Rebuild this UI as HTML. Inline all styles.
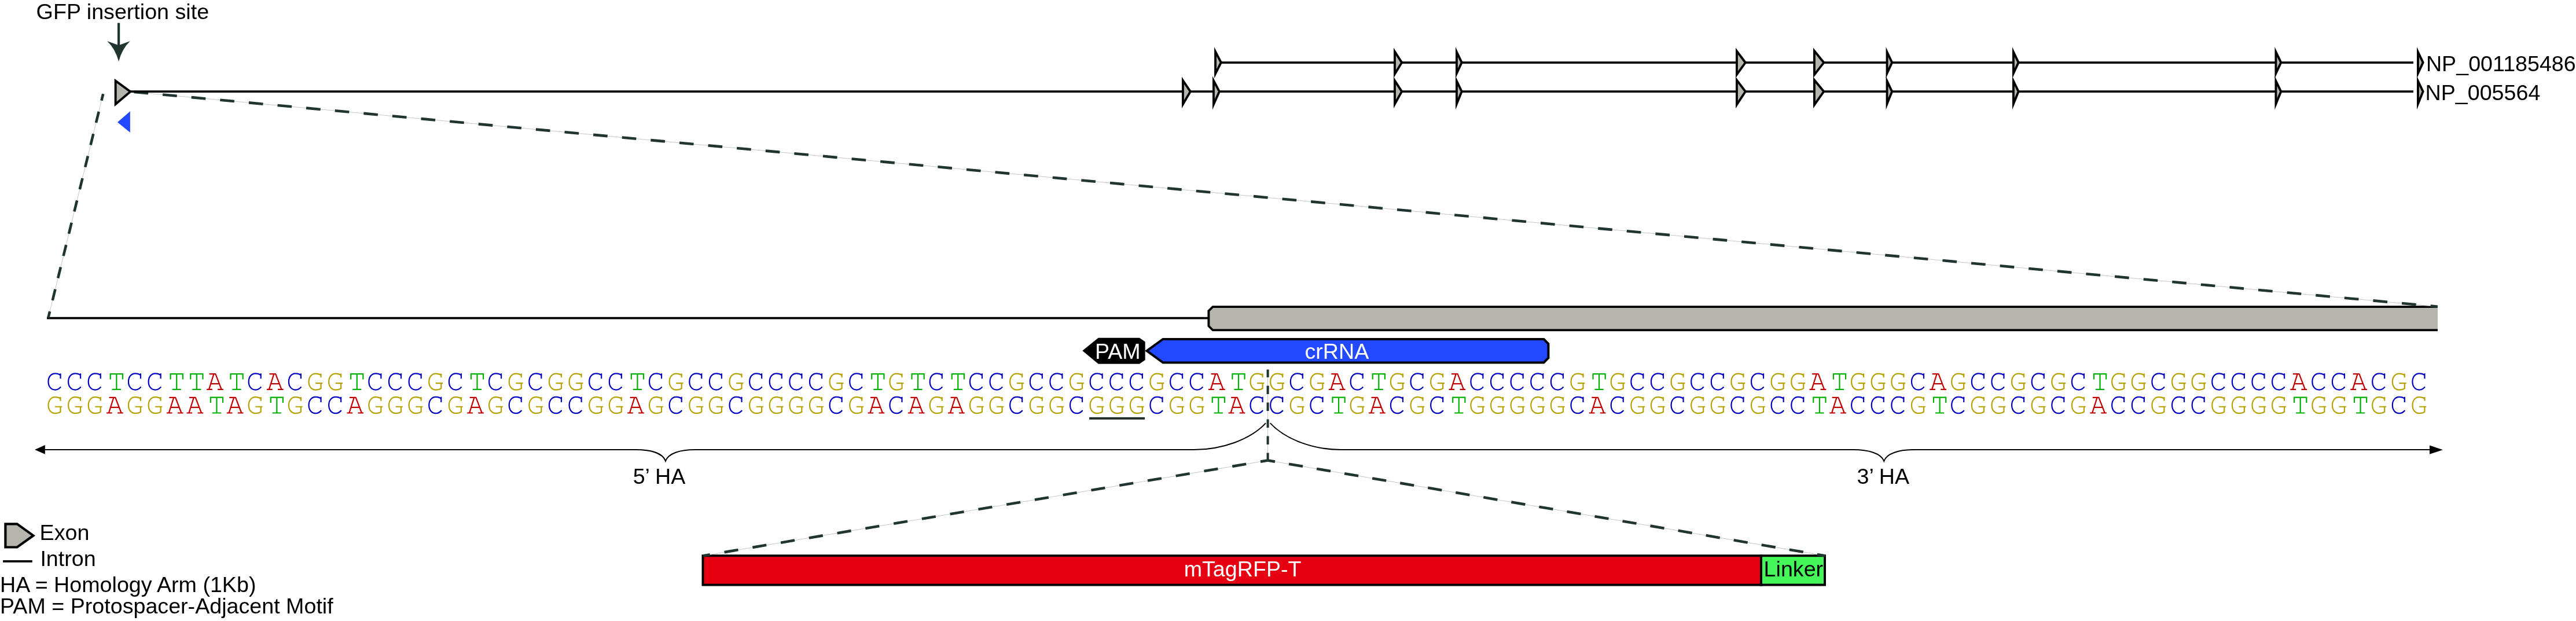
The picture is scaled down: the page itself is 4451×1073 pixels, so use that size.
<!DOCTYPE html>
<html><head><meta charset="utf-8"><style>
html,body{margin:0;padding:0;background:#fff;overflow:hidden;}
svg{display:block;}
#wrap{will-change:transform;}
text{font-family:"Liberation Sans",sans-serif;}
</style></head><body>
<div id="wrap"><svg width="4451" height="1073" viewBox="0 0 4451 1073">
<rect width="4451" height="1073" fill="#fff"/>
<text x="62.61" y="32.80" fill="#000" font-size="37.65">GFP insertion site</text>
<line x1="205.1" y1="39.6" x2="205.1" y2="80" stroke="#213530" stroke-width="4.2"/>
<path d="M205.1,106.3 Q199,84 185.2,71.1 L205.1,78.2 L224.8,71.1 Q211,84 205.1,106.3Z" fill="#213530"/>
<line x1="81" y1="549.6" x2="2088" y2="549.6" stroke="#000" stroke-width="3.9"/>
<path d="M4212,530.1 L2095.5,530.1 L2088.4,537.2 L2088.4,563.3 L2095.5,570.4 L4212,570.4 Z" fill="#b5b5ae"/>
<path d="M4212,530.1 L2095.5,530.1 L2088.4,537.2 L2088.4,563.3 L2095.5,570.4 L4212,570.4" fill="none" stroke="#000" stroke-width="3.9"/>
<line x1="178.2" y1="162.3" x2="83.4" y2="549" stroke="#bcbfbd" stroke-width="0.9"/>
<line x1="178.2" y1="162.3" x2="83.4" y2="549" stroke="#213530" stroke-width="4.6" stroke-dasharray="19.75 19.75" stroke-dashoffset="8"/>
<line x1="226" y1="158.4" x2="4212" y2="529.8" stroke="#bcbfbd" stroke-width="0.9"/>
<line x1="226" y1="158.4" x2="4212" y2="529.8" stroke="#213530" stroke-width="4.6" stroke-dasharray="24.7 25.117" stroke-dashoffset="-5.52"/>
<line x1="224" y1="158.1" x2="4170" y2="158.1" stroke="#000" stroke-width="3.8"/>
<line x1="2108" y1="108.1" x2="4170" y2="108.1" stroke="#000" stroke-width="3.8"/>
<polygon points="197.70,135.70 228.43,158.20 197.70,184.30" fill="#000"/>
<polygon points="201.60,143.39 222.14,158.43 201.60,175.87" fill="#b5b5ae"/>
<polygon points="2098.10,81.20 2112.01,108.10 2098.10,135.50" fill="#000"/>
<polygon points="2102.00,97.23 2107.63,108.12 2102.00,119.20" fill="#b5b5ae"/>
<polygon points="2408.00,82.60 2424.41,108.10 2408.00,134.80" fill="#000"/>
<polygon points="2411.90,95.86 2419.81,108.15 2411.90,121.01" fill="#b5b5ae"/>
<polygon points="2515.00,81.20 2527.84,108.10 2515.00,135.50" fill="#000"/>
<polygon points="2518.90,98.42 2523.53,108.12 2518.90,117.99" fill="#b5b5ae"/>
<polygon points="2999.00,82.60 3018.31,108.10 2999.00,134.80" fill="#000"/>
<polygon points="3002.90,94.21 3013.46,108.15 3002.90,122.75" fill="#b5b5ae"/>
<polygon points="3133.00,82.60 3153.81,108.10 3133.00,134.80" fill="#000"/>
<polygon points="3136.90,93.55 3148.82,108.16 3136.90,123.45" fill="#b5b5ae"/>
<polygon points="3258.60,81.20 3271.33,108.10 3258.60,135.50" fill="#000"/>
<polygon points="3262.50,98.56 3267.03,108.12 3262.50,117.85" fill="#b5b5ae"/>
<polygon points="3477.00,81.20 3489.84,108.10 3477.00,135.50" fill="#000"/>
<polygon points="3480.90,98.42 3485.53,108.12 3480.90,117.99" fill="#b5b5ae"/>
<polygon points="3930.50,81.20 3943.45,108.10 3930.50,135.50" fill="#000"/>
<polygon points="3934.40,98.30 3939.13,108.12 3934.40,118.12" fill="#b5b5ae"/>
<polygon points="4176.00,81.20 4188.84,108.10 4176.00,135.50" fill="#000"/>
<polygon points="4179.90,98.42 4184.53,108.12 4179.90,117.99" fill="#b5b5ae"/>
<polygon points="2042.00,132.80 2059.12,158.10 2042.00,187.30" fill="#000"/>
<polygon points="2045.90,145.53 2054.51,158.25 2045.90,172.93" fill="#b5b5ae"/>
<polygon points="2095.00,131.50 2109.06,158.10 2095.00,189.60" fill="#000"/>
<polygon points="2098.90,147.22 2104.73,158.24 2098.90,171.30" fill="#b5b5ae"/>
<polygon points="2408.00,132.80 2424.37,158.10 2408.00,187.30" fill="#000"/>
<polygon points="2411.90,146.01 2419.82,158.24 2411.90,172.37" fill="#b5b5ae"/>
<polygon points="2515.00,131.50 2527.78,158.10 2515.00,189.60" fill="#000"/>
<polygon points="2518.90,148.62 2523.52,158.23 2518.90,169.62" fill="#b5b5ae"/>
<polygon points="2999.00,132.80 3018.26,158.10 2999.00,187.30" fill="#000"/>
<polygon points="3002.90,144.36 3013.48,158.26 3002.90,174.30" fill="#b5b5ae"/>
<polygon points="3133.00,132.80 3153.75,158.10 3133.00,187.30" fill="#000"/>
<polygon points="3136.90,143.70 3148.85,158.27 3136.90,175.08" fill="#b5b5ae"/>
<polygon points="3258.60,131.50 3271.28,158.10 3258.60,189.60" fill="#000"/>
<polygon points="3262.50,148.75 3267.02,158.23 3262.50,169.47" fill="#b5b5ae"/>
<polygon points="3477.00,131.50 3489.78,158.10 3477.00,189.60" fill="#000"/>
<polygon points="3480.90,148.62 3485.52,158.23 3480.90,169.62" fill="#b5b5ae"/>
<polygon points="3930.50,131.50 3943.39,158.10 3930.50,189.60" fill="#000"/>
<polygon points="3934.40,148.49 3939.12,158.23 3934.40,169.77" fill="#b5b5ae"/>
<polygon points="4176.00,131.50 4188.78,158.10 4176.00,189.60" fill="#000"/>
<polygon points="4179.90,148.62 4184.52,158.23 4179.90,169.62" fill="#b5b5ae"/>
<text x="4191.91" y="123.00" fill="#000" font-size="37.65">NP_001185486</text>
<text x="4190.51" y="173.00" fill="#000" font-size="37.65">NP_005564</text>
<polygon points="203,211.2 224.9,192.2 224.9,228.9" fill="#2249ff"/>
<polygon points="1870.3,605.9 1897.7,583.7 1968.9,583.7 1978.7,590.6 1978.7,622 1968.9,628.7 1897.7,628.7" fill="#000"/>
<text x="1891.91" y="619.90" fill="#fff" font-size="37.65">PAM</text>
<polygon points="1981.6,606.2 2009.5,586 2667.5,586 2675.4,594 2675.4,618.5 2667.5,626.5 2009.5,626.5" fill="#2249ff" stroke="#000" stroke-width="4" stroke-miterlimit="10"/>
<text x="2254.50" y="620.00" fill="#fff" font-size="37.65">crRNA</text>
<g stroke="#c00000" stroke-width="2.2" fill="none">
<path transform="translate(371.75,673.6)" d="M-10.1,-27.4H1.2M-2.3,-27.4L-10.7,-0.7M0.6,-27.4L10.9,-0.7M-7.5,-10.4H7M-14.6,-0.7H-4.9M4.4,-0.7H14.1"/>
<path transform="translate(475.60,673.6)" d="M-10.1,-27.4H1.2M-2.3,-27.4L-10.7,-0.7M0.6,-27.4L10.9,-0.7M-7.5,-10.4H7M-14.6,-0.7H-4.9M4.4,-0.7H14.1"/>
<path transform="translate(2102.66,673.6)" d="M-10.1,-27.4H1.2M-2.3,-27.4L-10.7,-0.7M0.6,-27.4L10.9,-0.7M-7.5,-10.4H7M-14.6,-0.7H-4.9M4.4,-0.7H14.1"/>
<path transform="translate(2310.37,673.6)" d="M-10.1,-27.4H1.2M-2.3,-27.4L-10.7,-0.7M0.6,-27.4L10.9,-0.7M-7.5,-10.4H7M-14.6,-0.7H-4.9M4.4,-0.7H14.1"/>
<path transform="translate(2518.07,673.6)" d="M-10.1,-27.4H1.2M-2.3,-27.4L-10.7,-0.7M0.6,-27.4L10.9,-0.7M-7.5,-10.4H7M-14.6,-0.7H-4.9M4.4,-0.7H14.1"/>
<path transform="translate(3141.20,673.6)" d="M-10.1,-27.4H1.2M-2.3,-27.4L-10.7,-0.7M0.6,-27.4L10.9,-0.7M-7.5,-10.4H7M-14.6,-0.7H-4.9M4.4,-0.7H14.1"/>
<path transform="translate(3348.91,673.6)" d="M-10.1,-27.4H1.2M-2.3,-27.4L-10.7,-0.7M0.6,-27.4L10.9,-0.7M-7.5,-10.4H7M-14.6,-0.7H-4.9M4.4,-0.7H14.1"/>
<path transform="translate(3972.04,673.6)" d="M-10.1,-27.4H1.2M-2.3,-27.4L-10.7,-0.7M0.6,-27.4L10.9,-0.7M-7.5,-10.4H7M-14.6,-0.7H-4.9M4.4,-0.7H14.1"/>
<path transform="translate(4075.89,673.6)" d="M-10.1,-27.4H1.2M-2.3,-27.4L-10.7,-0.7M0.6,-27.4L10.9,-0.7M-7.5,-10.4H7M-14.6,-0.7H-4.9M4.4,-0.7H14.1"/>
</g>
<g stroke="#0000c0" stroke-width="2.2" fill="none">
<path transform="translate(94.81,673.6)" d="M9.7,-28.4V-19.3M9.7,-25.2C7.5,-27.3 4,-28.3 0.5,-28.3C-6.5,-28.3 -11.3,-22.5 -11.3,-14.2C-11.3,-5.8 -6.5,0 0.5,0C4.5,0 7.8,-2 10.3,-5.2"/>
<path transform="translate(129.42,673.6)" d="M9.7,-28.4V-19.3M9.7,-25.2C7.5,-27.3 4,-28.3 0.5,-28.3C-6.5,-28.3 -11.3,-22.5 -11.3,-14.2C-11.3,-5.8 -6.5,0 0.5,0C4.5,0 7.8,-2 10.3,-5.2"/>
<path transform="translate(164.04,673.6)" d="M9.7,-28.4V-19.3M9.7,-25.2C7.5,-27.3 4,-28.3 0.5,-28.3C-6.5,-28.3 -11.3,-22.5 -11.3,-14.2C-11.3,-5.8 -6.5,0 0.5,0C4.5,0 7.8,-2 10.3,-5.2"/>
<path transform="translate(233.28,673.6)" d="M9.7,-28.4V-19.3M9.7,-25.2C7.5,-27.3 4,-28.3 0.5,-28.3C-6.5,-28.3 -11.3,-22.5 -11.3,-14.2C-11.3,-5.8 -6.5,0 0.5,0C4.5,0 7.8,-2 10.3,-5.2"/>
<path transform="translate(267.90,673.6)" d="M9.7,-28.4V-19.3M9.7,-25.2C7.5,-27.3 4,-28.3 0.5,-28.3C-6.5,-28.3 -11.3,-22.5 -11.3,-14.2C-11.3,-5.8 -6.5,0 0.5,0C4.5,0 7.8,-2 10.3,-5.2"/>
<path transform="translate(440.99,673.6)" d="M9.7,-28.4V-19.3M9.7,-25.2C7.5,-27.3 4,-28.3 0.5,-28.3C-6.5,-28.3 -11.3,-22.5 -11.3,-14.2C-11.3,-5.8 -6.5,0 0.5,0C4.5,0 7.8,-2 10.3,-5.2"/>
<path transform="translate(510.22,673.6)" d="M9.7,-28.4V-19.3M9.7,-25.2C7.5,-27.3 4,-28.3 0.5,-28.3C-6.5,-28.3 -11.3,-22.5 -11.3,-14.2C-11.3,-5.8 -6.5,0 0.5,0C4.5,0 7.8,-2 10.3,-5.2"/>
<path transform="translate(648.70,673.6)" d="M9.7,-28.4V-19.3M9.7,-25.2C7.5,-27.3 4,-28.3 0.5,-28.3C-6.5,-28.3 -11.3,-22.5 -11.3,-14.2C-11.3,-5.8 -6.5,0 0.5,0C4.5,0 7.8,-2 10.3,-5.2"/>
<path transform="translate(683.31,673.6)" d="M9.7,-28.4V-19.3M9.7,-25.2C7.5,-27.3 4,-28.3 0.5,-28.3C-6.5,-28.3 -11.3,-22.5 -11.3,-14.2C-11.3,-5.8 -6.5,0 0.5,0C4.5,0 7.8,-2 10.3,-5.2"/>
<path transform="translate(717.93,673.6)" d="M9.7,-28.4V-19.3M9.7,-25.2C7.5,-27.3 4,-28.3 0.5,-28.3C-6.5,-28.3 -11.3,-22.5 -11.3,-14.2C-11.3,-5.8 -6.5,0 0.5,0C4.5,0 7.8,-2 10.3,-5.2"/>
<path transform="translate(787.17,673.6)" d="M9.7,-28.4V-19.3M9.7,-25.2C7.5,-27.3 4,-28.3 0.5,-28.3C-6.5,-28.3 -11.3,-22.5 -11.3,-14.2C-11.3,-5.8 -6.5,0 0.5,0C4.5,0 7.8,-2 10.3,-5.2"/>
<path transform="translate(856.40,673.6)" d="M9.7,-28.4V-19.3M9.7,-25.2C7.5,-27.3 4,-28.3 0.5,-28.3C-6.5,-28.3 -11.3,-22.5 -11.3,-14.2C-11.3,-5.8 -6.5,0 0.5,0C4.5,0 7.8,-2 10.3,-5.2"/>
<path transform="translate(925.64,673.6)" d="M9.7,-28.4V-19.3M9.7,-25.2C7.5,-27.3 4,-28.3 0.5,-28.3C-6.5,-28.3 -11.3,-22.5 -11.3,-14.2C-11.3,-5.8 -6.5,0 0.5,0C4.5,0 7.8,-2 10.3,-5.2"/>
<path transform="translate(1029.49,673.6)" d="M9.7,-28.4V-19.3M9.7,-25.2C7.5,-27.3 4,-28.3 0.5,-28.3C-6.5,-28.3 -11.3,-22.5 -11.3,-14.2C-11.3,-5.8 -6.5,0 0.5,0C4.5,0 7.8,-2 10.3,-5.2"/>
<path transform="translate(1064.11,673.6)" d="M9.7,-28.4V-19.3M9.7,-25.2C7.5,-27.3 4,-28.3 0.5,-28.3C-6.5,-28.3 -11.3,-22.5 -11.3,-14.2C-11.3,-5.8 -6.5,0 0.5,0C4.5,0 7.8,-2 10.3,-5.2"/>
<path transform="translate(1133.35,673.6)" d="M9.7,-28.4V-19.3M9.7,-25.2C7.5,-27.3 4,-28.3 0.5,-28.3C-6.5,-28.3 -11.3,-22.5 -11.3,-14.2C-11.3,-5.8 -6.5,0 0.5,0C4.5,0 7.8,-2 10.3,-5.2"/>
<path transform="translate(1202.59,673.6)" d="M9.7,-28.4V-19.3M9.7,-25.2C7.5,-27.3 4,-28.3 0.5,-28.3C-6.5,-28.3 -11.3,-22.5 -11.3,-14.2C-11.3,-5.8 -6.5,0 0.5,0C4.5,0 7.8,-2 10.3,-5.2"/>
<path transform="translate(1237.20,673.6)" d="M9.7,-28.4V-19.3M9.7,-25.2C7.5,-27.3 4,-28.3 0.5,-28.3C-6.5,-28.3 -11.3,-22.5 -11.3,-14.2C-11.3,-5.8 -6.5,0 0.5,0C4.5,0 7.8,-2 10.3,-5.2"/>
<path transform="translate(1306.44,673.6)" d="M9.7,-28.4V-19.3M9.7,-25.2C7.5,-27.3 4,-28.3 0.5,-28.3C-6.5,-28.3 -11.3,-22.5 -11.3,-14.2C-11.3,-5.8 -6.5,0 0.5,0C4.5,0 7.8,-2 10.3,-5.2"/>
<path transform="translate(1341.06,673.6)" d="M9.7,-28.4V-19.3M9.7,-25.2C7.5,-27.3 4,-28.3 0.5,-28.3C-6.5,-28.3 -11.3,-22.5 -11.3,-14.2C-11.3,-5.8 -6.5,0 0.5,0C4.5,0 7.8,-2 10.3,-5.2"/>
<path transform="translate(1375.68,673.6)" d="M9.7,-28.4V-19.3M9.7,-25.2C7.5,-27.3 4,-28.3 0.5,-28.3C-6.5,-28.3 -11.3,-22.5 -11.3,-14.2C-11.3,-5.8 -6.5,0 0.5,0C4.5,0 7.8,-2 10.3,-5.2"/>
<path transform="translate(1410.29,673.6)" d="M9.7,-28.4V-19.3M9.7,-25.2C7.5,-27.3 4,-28.3 0.5,-28.3C-6.5,-28.3 -11.3,-22.5 -11.3,-14.2C-11.3,-5.8 -6.5,0 0.5,0C4.5,0 7.8,-2 10.3,-5.2"/>
<path transform="translate(1479.53,673.6)" d="M9.7,-28.4V-19.3M9.7,-25.2C7.5,-27.3 4,-28.3 0.5,-28.3C-6.5,-28.3 -11.3,-22.5 -11.3,-14.2C-11.3,-5.8 -6.5,0 0.5,0C4.5,0 7.8,-2 10.3,-5.2"/>
<path transform="translate(1618.00,673.6)" d="M9.7,-28.4V-19.3M9.7,-25.2C7.5,-27.3 4,-28.3 0.5,-28.3C-6.5,-28.3 -11.3,-22.5 -11.3,-14.2C-11.3,-5.8 -6.5,0 0.5,0C4.5,0 7.8,-2 10.3,-5.2"/>
<path transform="translate(1687.24,673.6)" d="M9.7,-28.4V-19.3M9.7,-25.2C7.5,-27.3 4,-28.3 0.5,-28.3C-6.5,-28.3 -11.3,-22.5 -11.3,-14.2C-11.3,-5.8 -6.5,0 0.5,0C4.5,0 7.8,-2 10.3,-5.2"/>
<path transform="translate(1721.86,673.6)" d="M9.7,-28.4V-19.3M9.7,-25.2C7.5,-27.3 4,-28.3 0.5,-28.3C-6.5,-28.3 -11.3,-22.5 -11.3,-14.2C-11.3,-5.8 -6.5,0 0.5,0C4.5,0 7.8,-2 10.3,-5.2"/>
<path transform="translate(1791.09,673.6)" d="M9.7,-28.4V-19.3M9.7,-25.2C7.5,-27.3 4,-28.3 0.5,-28.3C-6.5,-28.3 -11.3,-22.5 -11.3,-14.2C-11.3,-5.8 -6.5,0 0.5,0C4.5,0 7.8,-2 10.3,-5.2"/>
<path transform="translate(1825.71,673.6)" d="M9.7,-28.4V-19.3M9.7,-25.2C7.5,-27.3 4,-28.3 0.5,-28.3C-6.5,-28.3 -11.3,-22.5 -11.3,-14.2C-11.3,-5.8 -6.5,0 0.5,0C4.5,0 7.8,-2 10.3,-5.2"/>
<path transform="translate(1894.95,673.6)" d="M9.7,-28.4V-19.3M9.7,-25.2C7.5,-27.3 4,-28.3 0.5,-28.3C-6.5,-28.3 -11.3,-22.5 -11.3,-14.2C-11.3,-5.8 -6.5,0 0.5,0C4.5,0 7.8,-2 10.3,-5.2"/>
<path transform="translate(1929.57,673.6)" d="M9.7,-28.4V-19.3M9.7,-25.2C7.5,-27.3 4,-28.3 0.5,-28.3C-6.5,-28.3 -11.3,-22.5 -11.3,-14.2C-11.3,-5.8 -6.5,0 0.5,0C4.5,0 7.8,-2 10.3,-5.2"/>
<path transform="translate(1964.18,673.6)" d="M9.7,-28.4V-19.3M9.7,-25.2C7.5,-27.3 4,-28.3 0.5,-28.3C-6.5,-28.3 -11.3,-22.5 -11.3,-14.2C-11.3,-5.8 -6.5,0 0.5,0C4.5,0 7.8,-2 10.3,-5.2"/>
<path transform="translate(2033.42,673.6)" d="M9.7,-28.4V-19.3M9.7,-25.2C7.5,-27.3 4,-28.3 0.5,-28.3C-6.5,-28.3 -11.3,-22.5 -11.3,-14.2C-11.3,-5.8 -6.5,0 0.5,0C4.5,0 7.8,-2 10.3,-5.2"/>
<path transform="translate(2068.04,673.6)" d="M9.7,-28.4V-19.3M9.7,-25.2C7.5,-27.3 4,-28.3 0.5,-28.3C-6.5,-28.3 -11.3,-22.5 -11.3,-14.2C-11.3,-5.8 -6.5,0 0.5,0C4.5,0 7.8,-2 10.3,-5.2"/>
<path transform="translate(2241.13,673.6)" d="M9.7,-28.4V-19.3M9.7,-25.2C7.5,-27.3 4,-28.3 0.5,-28.3C-6.5,-28.3 -11.3,-22.5 -11.3,-14.2C-11.3,-5.8 -6.5,0 0.5,0C4.5,0 7.8,-2 10.3,-5.2"/>
<path transform="translate(2344.98,673.6)" d="M9.7,-28.4V-19.3M9.7,-25.2C7.5,-27.3 4,-28.3 0.5,-28.3C-6.5,-28.3 -11.3,-22.5 -11.3,-14.2C-11.3,-5.8 -6.5,0 0.5,0C4.5,0 7.8,-2 10.3,-5.2"/>
<path transform="translate(2448.84,673.6)" d="M9.7,-28.4V-19.3M9.7,-25.2C7.5,-27.3 4,-28.3 0.5,-28.3C-6.5,-28.3 -11.3,-22.5 -11.3,-14.2C-11.3,-5.8 -6.5,0 0.5,0C4.5,0 7.8,-2 10.3,-5.2"/>
<path transform="translate(2552.69,673.6)" d="M9.7,-28.4V-19.3M9.7,-25.2C7.5,-27.3 4,-28.3 0.5,-28.3C-6.5,-28.3 -11.3,-22.5 -11.3,-14.2C-11.3,-5.8 -6.5,0 0.5,0C4.5,0 7.8,-2 10.3,-5.2"/>
<path transform="translate(2587.31,673.6)" d="M9.7,-28.4V-19.3M9.7,-25.2C7.5,-27.3 4,-28.3 0.5,-28.3C-6.5,-28.3 -11.3,-22.5 -11.3,-14.2C-11.3,-5.8 -6.5,0 0.5,0C4.5,0 7.8,-2 10.3,-5.2"/>
<path transform="translate(2621.93,673.6)" d="M9.7,-28.4V-19.3M9.7,-25.2C7.5,-27.3 4,-28.3 0.5,-28.3C-6.5,-28.3 -11.3,-22.5 -11.3,-14.2C-11.3,-5.8 -6.5,0 0.5,0C4.5,0 7.8,-2 10.3,-5.2"/>
<path transform="translate(2656.55,673.6)" d="M9.7,-28.4V-19.3M9.7,-25.2C7.5,-27.3 4,-28.3 0.5,-28.3C-6.5,-28.3 -11.3,-22.5 -11.3,-14.2C-11.3,-5.8 -6.5,0 0.5,0C4.5,0 7.8,-2 10.3,-5.2"/>
<path transform="translate(2691.17,673.6)" d="M9.7,-28.4V-19.3M9.7,-25.2C7.5,-27.3 4,-28.3 0.5,-28.3C-6.5,-28.3 -11.3,-22.5 -11.3,-14.2C-11.3,-5.8 -6.5,0 0.5,0C4.5,0 7.8,-2 10.3,-5.2"/>
<path transform="translate(2829.64,673.6)" d="M9.7,-28.4V-19.3M9.7,-25.2C7.5,-27.3 4,-28.3 0.5,-28.3C-6.5,-28.3 -11.3,-22.5 -11.3,-14.2C-11.3,-5.8 -6.5,0 0.5,0C4.5,0 7.8,-2 10.3,-5.2"/>
<path transform="translate(2864.26,673.6)" d="M9.7,-28.4V-19.3M9.7,-25.2C7.5,-27.3 4,-28.3 0.5,-28.3C-6.5,-28.3 -11.3,-22.5 -11.3,-14.2C-11.3,-5.8 -6.5,0 0.5,0C4.5,0 7.8,-2 10.3,-5.2"/>
<path transform="translate(2933.49,673.6)" d="M9.7,-28.4V-19.3M9.7,-25.2C7.5,-27.3 4,-28.3 0.5,-28.3C-6.5,-28.3 -11.3,-22.5 -11.3,-14.2C-11.3,-5.8 -6.5,0 0.5,0C4.5,0 7.8,-2 10.3,-5.2"/>
<path transform="translate(2968.11,673.6)" d="M9.7,-28.4V-19.3M9.7,-25.2C7.5,-27.3 4,-28.3 0.5,-28.3C-6.5,-28.3 -11.3,-22.5 -11.3,-14.2C-11.3,-5.8 -6.5,0 0.5,0C4.5,0 7.8,-2 10.3,-5.2"/>
<path transform="translate(3037.35,673.6)" d="M9.7,-28.4V-19.3M9.7,-25.2C7.5,-27.3 4,-28.3 0.5,-28.3C-6.5,-28.3 -11.3,-22.5 -11.3,-14.2C-11.3,-5.8 -6.5,0 0.5,0C4.5,0 7.8,-2 10.3,-5.2"/>
<path transform="translate(3314.29,673.6)" d="M9.7,-28.4V-19.3M9.7,-25.2C7.5,-27.3 4,-28.3 0.5,-28.3C-6.5,-28.3 -11.3,-22.5 -11.3,-14.2C-11.3,-5.8 -6.5,0 0.5,0C4.5,0 7.8,-2 10.3,-5.2"/>
<path transform="translate(3418.15,673.6)" d="M9.7,-28.4V-19.3M9.7,-25.2C7.5,-27.3 4,-28.3 0.5,-28.3C-6.5,-28.3 -11.3,-22.5 -11.3,-14.2C-11.3,-5.8 -6.5,0 0.5,0C4.5,0 7.8,-2 10.3,-5.2"/>
<path transform="translate(3452.76,673.6)" d="M9.7,-28.4V-19.3M9.7,-25.2C7.5,-27.3 4,-28.3 0.5,-28.3C-6.5,-28.3 -11.3,-22.5 -11.3,-14.2C-11.3,-5.8 -6.5,0 0.5,0C4.5,0 7.8,-2 10.3,-5.2"/>
<path transform="translate(3522.00,673.6)" d="M9.7,-28.4V-19.3M9.7,-25.2C7.5,-27.3 4,-28.3 0.5,-28.3C-6.5,-28.3 -11.3,-22.5 -11.3,-14.2C-11.3,-5.8 -6.5,0 0.5,0C4.5,0 7.8,-2 10.3,-5.2"/>
<path transform="translate(3591.24,673.6)" d="M9.7,-28.4V-19.3M9.7,-25.2C7.5,-27.3 4,-28.3 0.5,-28.3C-6.5,-28.3 -11.3,-22.5 -11.3,-14.2C-11.3,-5.8 -6.5,0 0.5,0C4.5,0 7.8,-2 10.3,-5.2"/>
<path transform="translate(3729.71,673.6)" d="M9.7,-28.4V-19.3M9.7,-25.2C7.5,-27.3 4,-28.3 0.5,-28.3C-6.5,-28.3 -11.3,-22.5 -11.3,-14.2C-11.3,-5.8 -6.5,0 0.5,0C4.5,0 7.8,-2 10.3,-5.2"/>
<path transform="translate(3833.56,673.6)" d="M9.7,-28.4V-19.3M9.7,-25.2C7.5,-27.3 4,-28.3 0.5,-28.3C-6.5,-28.3 -11.3,-22.5 -11.3,-14.2C-11.3,-5.8 -6.5,0 0.5,0C4.5,0 7.8,-2 10.3,-5.2"/>
<path transform="translate(3868.18,673.6)" d="M9.7,-28.4V-19.3M9.7,-25.2C7.5,-27.3 4,-28.3 0.5,-28.3C-6.5,-28.3 -11.3,-22.5 -11.3,-14.2C-11.3,-5.8 -6.5,0 0.5,0C4.5,0 7.8,-2 10.3,-5.2"/>
<path transform="translate(3902.80,673.6)" d="M9.7,-28.4V-19.3M9.7,-25.2C7.5,-27.3 4,-28.3 0.5,-28.3C-6.5,-28.3 -11.3,-22.5 -11.3,-14.2C-11.3,-5.8 -6.5,0 0.5,0C4.5,0 7.8,-2 10.3,-5.2"/>
<path transform="translate(3937.42,673.6)" d="M9.7,-28.4V-19.3M9.7,-25.2C7.5,-27.3 4,-28.3 0.5,-28.3C-6.5,-28.3 -11.3,-22.5 -11.3,-14.2C-11.3,-5.8 -6.5,0 0.5,0C4.5,0 7.8,-2 10.3,-5.2"/>
<path transform="translate(4006.65,673.6)" d="M9.7,-28.4V-19.3M9.7,-25.2C7.5,-27.3 4,-28.3 0.5,-28.3C-6.5,-28.3 -11.3,-22.5 -11.3,-14.2C-11.3,-5.8 -6.5,0 0.5,0C4.5,0 7.8,-2 10.3,-5.2"/>
<path transform="translate(4041.27,673.6)" d="M9.7,-28.4V-19.3M9.7,-25.2C7.5,-27.3 4,-28.3 0.5,-28.3C-6.5,-28.3 -11.3,-22.5 -11.3,-14.2C-11.3,-5.8 -6.5,0 0.5,0C4.5,0 7.8,-2 10.3,-5.2"/>
<path transform="translate(4110.51,673.6)" d="M9.7,-28.4V-19.3M9.7,-25.2C7.5,-27.3 4,-28.3 0.5,-28.3C-6.5,-28.3 -11.3,-22.5 -11.3,-14.2C-11.3,-5.8 -6.5,0 0.5,0C4.5,0 7.8,-2 10.3,-5.2"/>
<path transform="translate(4179.75,673.6)" d="M9.7,-28.4V-19.3M9.7,-25.2C7.5,-27.3 4,-28.3 0.5,-28.3C-6.5,-28.3 -11.3,-22.5 -11.3,-14.2C-11.3,-5.8 -6.5,0 0.5,0C4.5,0 7.8,-2 10.3,-5.2"/>
</g>
<g stroke="#b5a100" stroke-width="2.2" fill="none">
<path transform="translate(544.84,673.6)" d="M9.7,-28.2V-21.4M9.7,-25C7.5,-27.1 4,-28 0.5,-28C-6.5,-28 -11.3,-22.3 -11.3,-14C-11.3,-5.7 -6.5,0 0.5,0C4,0 7.3,-0.8 9.7,-2.5V-11.45M0.3,-11.45H12.5"/>
<path transform="translate(579.46,673.6)" d="M9.7,-28.2V-21.4M9.7,-25C7.5,-27.1 4,-28 0.5,-28C-6.5,-28 -11.3,-22.3 -11.3,-14C-11.3,-5.7 -6.5,0 0.5,0C4,0 7.3,-0.8 9.7,-2.5V-11.45M0.3,-11.45H12.5"/>
<path transform="translate(752.55,673.6)" d="M9.7,-28.2V-21.4M9.7,-25C7.5,-27.1 4,-28 0.5,-28C-6.5,-28 -11.3,-22.3 -11.3,-14C-11.3,-5.7 -6.5,0 0.5,0C4,0 7.3,-0.8 9.7,-2.5V-11.45M0.3,-11.45H12.5"/>
<path transform="translate(891.02,673.6)" d="M9.7,-28.2V-21.4M9.7,-25C7.5,-27.1 4,-28 0.5,-28C-6.5,-28 -11.3,-22.3 -11.3,-14C-11.3,-5.7 -6.5,0 0.5,0C4,0 7.3,-0.8 9.7,-2.5V-11.45M0.3,-11.45H12.5"/>
<path transform="translate(960.26,673.6)" d="M9.7,-28.2V-21.4M9.7,-25C7.5,-27.1 4,-28 0.5,-28C-6.5,-28 -11.3,-22.3 -11.3,-14C-11.3,-5.7 -6.5,0 0.5,0C4,0 7.3,-0.8 9.7,-2.5V-11.45M0.3,-11.45H12.5"/>
<path transform="translate(994.88,673.6)" d="M9.7,-28.2V-21.4M9.7,-25C7.5,-27.1 4,-28 0.5,-28C-6.5,-28 -11.3,-22.3 -11.3,-14C-11.3,-5.7 -6.5,0 0.5,0C4,0 7.3,-0.8 9.7,-2.5V-11.45M0.3,-11.45H12.5"/>
<path transform="translate(1167.97,673.6)" d="M9.7,-28.2V-21.4M9.7,-25C7.5,-27.1 4,-28 0.5,-28C-6.5,-28 -11.3,-22.3 -11.3,-14C-11.3,-5.7 -6.5,0 0.5,0C4,0 7.3,-0.8 9.7,-2.5V-11.45M0.3,-11.45H12.5"/>
<path transform="translate(1271.82,673.6)" d="M9.7,-28.2V-21.4M9.7,-25C7.5,-27.1 4,-28 0.5,-28C-6.5,-28 -11.3,-22.3 -11.3,-14C-11.3,-5.7 -6.5,0 0.5,0C4,0 7.3,-0.8 9.7,-2.5V-11.45M0.3,-11.45H12.5"/>
<path transform="translate(1444.91,673.6)" d="M9.7,-28.2V-21.4M9.7,-25C7.5,-27.1 4,-28 0.5,-28C-6.5,-28 -11.3,-22.3 -11.3,-14C-11.3,-5.7 -6.5,0 0.5,0C4,0 7.3,-0.8 9.7,-2.5V-11.45M0.3,-11.45H12.5"/>
<path transform="translate(1548.77,673.6)" d="M9.7,-28.2V-21.4M9.7,-25C7.5,-27.1 4,-28 0.5,-28C-6.5,-28 -11.3,-22.3 -11.3,-14C-11.3,-5.7 -6.5,0 0.5,0C4,0 7.3,-0.8 9.7,-2.5V-11.45M0.3,-11.45H12.5"/>
<path transform="translate(1756.48,673.6)" d="M9.7,-28.2V-21.4M9.7,-25C7.5,-27.1 4,-28 0.5,-28C-6.5,-28 -11.3,-22.3 -11.3,-14C-11.3,-5.7 -6.5,0 0.5,0C4,0 7.3,-0.8 9.7,-2.5V-11.45M0.3,-11.45H12.5"/>
<path transform="translate(1860.33,673.6)" d="M9.7,-28.2V-21.4M9.7,-25C7.5,-27.1 4,-28 0.5,-28C-6.5,-28 -11.3,-22.3 -11.3,-14C-11.3,-5.7 -6.5,0 0.5,0C4,0 7.3,-0.8 9.7,-2.5V-11.45M0.3,-11.45H12.5"/>
<path transform="translate(1998.80,673.6)" d="M9.7,-28.2V-21.4M9.7,-25C7.5,-27.1 4,-28 0.5,-28C-6.5,-28 -11.3,-22.3 -11.3,-14C-11.3,-5.7 -6.5,0 0.5,0C4,0 7.3,-0.8 9.7,-2.5V-11.45M0.3,-11.45H12.5"/>
<path transform="translate(2171.89,673.6)" d="M9.7,-28.2V-21.4M9.7,-25C7.5,-27.1 4,-28 0.5,-28C-6.5,-28 -11.3,-22.3 -11.3,-14C-11.3,-5.7 -6.5,0 0.5,0C4,0 7.3,-0.8 9.7,-2.5V-11.45M0.3,-11.45H12.5"/>
<path transform="translate(2206.51,673.6)" d="M9.7,-28.2V-21.4M9.7,-25C7.5,-27.1 4,-28 0.5,-28C-6.5,-28 -11.3,-22.3 -11.3,-14C-11.3,-5.7 -6.5,0 0.5,0C4,0 7.3,-0.8 9.7,-2.5V-11.45M0.3,-11.45H12.5"/>
<path transform="translate(2275.75,673.6)" d="M9.7,-28.2V-21.4M9.7,-25C7.5,-27.1 4,-28 0.5,-28C-6.5,-28 -11.3,-22.3 -11.3,-14C-11.3,-5.7 -6.5,0 0.5,0C4,0 7.3,-0.8 9.7,-2.5V-11.45M0.3,-11.45H12.5"/>
<path transform="translate(2414.22,673.6)" d="M9.7,-28.2V-21.4M9.7,-25C7.5,-27.1 4,-28 0.5,-28C-6.5,-28 -11.3,-22.3 -11.3,-14C-11.3,-5.7 -6.5,0 0.5,0C4,0 7.3,-0.8 9.7,-2.5V-11.45M0.3,-11.45H12.5"/>
<path transform="translate(2483.46,673.6)" d="M9.7,-28.2V-21.4M9.7,-25C7.5,-27.1 4,-28 0.5,-28C-6.5,-28 -11.3,-22.3 -11.3,-14C-11.3,-5.7 -6.5,0 0.5,0C4,0 7.3,-0.8 9.7,-2.5V-11.45M0.3,-11.45H12.5"/>
<path transform="translate(2725.78,673.6)" d="M9.7,-28.2V-21.4M9.7,-25C7.5,-27.1 4,-28 0.5,-28C-6.5,-28 -11.3,-22.3 -11.3,-14C-11.3,-5.7 -6.5,0 0.5,0C4,0 7.3,-0.8 9.7,-2.5V-11.45M0.3,-11.45H12.5"/>
<path transform="translate(2795.02,673.6)" d="M9.7,-28.2V-21.4M9.7,-25C7.5,-27.1 4,-28 0.5,-28C-6.5,-28 -11.3,-22.3 -11.3,-14C-11.3,-5.7 -6.5,0 0.5,0C4,0 7.3,-0.8 9.7,-2.5V-11.45M0.3,-11.45H12.5"/>
<path transform="translate(2898.87,673.6)" d="M9.7,-28.2V-21.4M9.7,-25C7.5,-27.1 4,-28 0.5,-28C-6.5,-28 -11.3,-22.3 -11.3,-14C-11.3,-5.7 -6.5,0 0.5,0C4,0 7.3,-0.8 9.7,-2.5V-11.45M0.3,-11.45H12.5"/>
<path transform="translate(3002.73,673.6)" d="M9.7,-28.2V-21.4M9.7,-25C7.5,-27.1 4,-28 0.5,-28C-6.5,-28 -11.3,-22.3 -11.3,-14C-11.3,-5.7 -6.5,0 0.5,0C4,0 7.3,-0.8 9.7,-2.5V-11.45M0.3,-11.45H12.5"/>
<path transform="translate(3071.97,673.6)" d="M9.7,-28.2V-21.4M9.7,-25C7.5,-27.1 4,-28 0.5,-28C-6.5,-28 -11.3,-22.3 -11.3,-14C-11.3,-5.7 -6.5,0 0.5,0C4,0 7.3,-0.8 9.7,-2.5V-11.45M0.3,-11.45H12.5"/>
<path transform="translate(3106.58,673.6)" d="M9.7,-28.2V-21.4M9.7,-25C7.5,-27.1 4,-28 0.5,-28C-6.5,-28 -11.3,-22.3 -11.3,-14C-11.3,-5.7 -6.5,0 0.5,0C4,0 7.3,-0.8 9.7,-2.5V-11.45M0.3,-11.45H12.5"/>
<path transform="translate(3210.44,673.6)" d="M9.7,-28.2V-21.4M9.7,-25C7.5,-27.1 4,-28 0.5,-28C-6.5,-28 -11.3,-22.3 -11.3,-14C-11.3,-5.7 -6.5,0 0.5,0C4,0 7.3,-0.8 9.7,-2.5V-11.45M0.3,-11.45H12.5"/>
<path transform="translate(3245.06,673.6)" d="M9.7,-28.2V-21.4M9.7,-25C7.5,-27.1 4,-28 0.5,-28C-6.5,-28 -11.3,-22.3 -11.3,-14C-11.3,-5.7 -6.5,0 0.5,0C4,0 7.3,-0.8 9.7,-2.5V-11.45M0.3,-11.45H12.5"/>
<path transform="translate(3279.67,673.6)" d="M9.7,-28.2V-21.4M9.7,-25C7.5,-27.1 4,-28 0.5,-28C-6.5,-28 -11.3,-22.3 -11.3,-14C-11.3,-5.7 -6.5,0 0.5,0C4,0 7.3,-0.8 9.7,-2.5V-11.45M0.3,-11.45H12.5"/>
<path transform="translate(3383.53,673.6)" d="M9.7,-28.2V-21.4M9.7,-25C7.5,-27.1 4,-28 0.5,-28C-6.5,-28 -11.3,-22.3 -11.3,-14C-11.3,-5.7 -6.5,0 0.5,0C4,0 7.3,-0.8 9.7,-2.5V-11.45M0.3,-11.45H12.5"/>
<path transform="translate(3487.38,673.6)" d="M9.7,-28.2V-21.4M9.7,-25C7.5,-27.1 4,-28 0.5,-28C-6.5,-28 -11.3,-22.3 -11.3,-14C-11.3,-5.7 -6.5,0 0.5,0C4,0 7.3,-0.8 9.7,-2.5V-11.45M0.3,-11.45H12.5"/>
<path transform="translate(3556.62,673.6)" d="M9.7,-28.2V-21.4M9.7,-25C7.5,-27.1 4,-28 0.5,-28C-6.5,-28 -11.3,-22.3 -11.3,-14C-11.3,-5.7 -6.5,0 0.5,0C4,0 7.3,-0.8 9.7,-2.5V-11.45M0.3,-11.45H12.5"/>
<path transform="translate(3660.47,673.6)" d="M9.7,-28.2V-21.4M9.7,-25C7.5,-27.1 4,-28 0.5,-28C-6.5,-28 -11.3,-22.3 -11.3,-14C-11.3,-5.7 -6.5,0 0.5,0C4,0 7.3,-0.8 9.7,-2.5V-11.45M0.3,-11.45H12.5"/>
<path transform="translate(3695.09,673.6)" d="M9.7,-28.2V-21.4M9.7,-25C7.5,-27.1 4,-28 0.5,-28C-6.5,-28 -11.3,-22.3 -11.3,-14C-11.3,-5.7 -6.5,0 0.5,0C4,0 7.3,-0.8 9.7,-2.5V-11.45M0.3,-11.45H12.5"/>
<path transform="translate(3764.33,673.6)" d="M9.7,-28.2V-21.4M9.7,-25C7.5,-27.1 4,-28 0.5,-28C-6.5,-28 -11.3,-22.3 -11.3,-14C-11.3,-5.7 -6.5,0 0.5,0C4,0 7.3,-0.8 9.7,-2.5V-11.45M0.3,-11.45H12.5"/>
<path transform="translate(3798.95,673.6)" d="M9.7,-28.2V-21.4M9.7,-25C7.5,-27.1 4,-28 0.5,-28C-6.5,-28 -11.3,-22.3 -11.3,-14C-11.3,-5.7 -6.5,0 0.5,0C4,0 7.3,-0.8 9.7,-2.5V-11.45M0.3,-11.45H12.5"/>
<path transform="translate(4145.13,673.6)" d="M9.7,-28.2V-21.4M9.7,-25C7.5,-27.1 4,-28 0.5,-28C-6.5,-28 -11.3,-22.3 -11.3,-14C-11.3,-5.7 -6.5,0 0.5,0C4,0 7.3,-0.8 9.7,-2.5V-11.45M0.3,-11.45H12.5"/>
</g>
<g stroke="#00b000" stroke-width="2.2" fill="none">
<path transform="translate(198.66,673.6)" d="M-8.9,-27.55H14.3M-7.9,-27.55V-18.1M13.3,-27.55V-18.1M2.7,-27.55V-0.7M-4.9,-0.7H10.3"/>
<path transform="translate(302.51,673.6)" d="M-8.9,-27.55H14.3M-7.9,-27.55V-18.1M13.3,-27.55V-18.1M2.7,-27.55V-0.7M-4.9,-0.7H10.3"/>
<path transform="translate(337.13,673.6)" d="M-8.9,-27.55H14.3M-7.9,-27.55V-18.1M13.3,-27.55V-18.1M2.7,-27.55V-0.7M-4.9,-0.7H10.3"/>
<path transform="translate(406.37,673.6)" d="M-8.9,-27.55H14.3M-7.9,-27.55V-18.1M13.3,-27.55V-18.1M2.7,-27.55V-0.7M-4.9,-0.7H10.3"/>
<path transform="translate(614.08,673.6)" d="M-8.9,-27.55H14.3M-7.9,-27.55V-18.1M13.3,-27.55V-18.1M2.7,-27.55V-0.7M-4.9,-0.7H10.3"/>
<path transform="translate(821.79,673.6)" d="M-8.9,-27.55H14.3M-7.9,-27.55V-18.1M13.3,-27.55V-18.1M2.7,-27.55V-0.7M-4.9,-0.7H10.3"/>
<path transform="translate(1098.73,673.6)" d="M-8.9,-27.55H14.3M-7.9,-27.55V-18.1M13.3,-27.55V-18.1M2.7,-27.55V-0.7M-4.9,-0.7H10.3"/>
<path transform="translate(1514.15,673.6)" d="M-8.9,-27.55H14.3M-7.9,-27.55V-18.1M13.3,-27.55V-18.1M2.7,-27.55V-0.7M-4.9,-0.7H10.3"/>
<path transform="translate(1583.39,673.6)" d="M-8.9,-27.55H14.3M-7.9,-27.55V-18.1M13.3,-27.55V-18.1M2.7,-27.55V-0.7M-4.9,-0.7H10.3"/>
<path transform="translate(1652.62,673.6)" d="M-8.9,-27.55H14.3M-7.9,-27.55V-18.1M13.3,-27.55V-18.1M2.7,-27.55V-0.7M-4.9,-0.7H10.3"/>
<path transform="translate(2137.28,673.6)" d="M-8.9,-27.55H14.3M-7.9,-27.55V-18.1M13.3,-27.55V-18.1M2.7,-27.55V-0.7M-4.9,-0.7H10.3"/>
<path transform="translate(2379.60,673.6)" d="M-8.9,-27.55H14.3M-7.9,-27.55V-18.1M13.3,-27.55V-18.1M2.7,-27.55V-0.7M-4.9,-0.7H10.3"/>
<path transform="translate(2760.40,673.6)" d="M-8.9,-27.55H14.3M-7.9,-27.55V-18.1M13.3,-27.55V-18.1M2.7,-27.55V-0.7M-4.9,-0.7H10.3"/>
<path transform="translate(3175.82,673.6)" d="M-8.9,-27.55H14.3M-7.9,-27.55V-18.1M13.3,-27.55V-18.1M2.7,-27.55V-0.7M-4.9,-0.7H10.3"/>
<path transform="translate(3625.86,673.6)" d="M-8.9,-27.55H14.3M-7.9,-27.55V-18.1M13.3,-27.55V-18.1M2.7,-27.55V-0.7M-4.9,-0.7H10.3"/>
</g>
<g stroke="#c00000" stroke-width="2.2" fill="none">
<path transform="translate(198.66,714.2)" d="M-10.1,-27.4H1.2M-2.3,-27.4L-10.7,-0.7M0.6,-27.4L10.9,-0.7M-7.5,-10.4H7M-14.6,-0.7H-4.9M4.4,-0.7H14.1"/>
<path transform="translate(302.51,714.2)" d="M-10.1,-27.4H1.2M-2.3,-27.4L-10.7,-0.7M0.6,-27.4L10.9,-0.7M-7.5,-10.4H7M-14.6,-0.7H-4.9M4.4,-0.7H14.1"/>
<path transform="translate(337.13,714.2)" d="M-10.1,-27.4H1.2M-2.3,-27.4L-10.7,-0.7M0.6,-27.4L10.9,-0.7M-7.5,-10.4H7M-14.6,-0.7H-4.9M4.4,-0.7H14.1"/>
<path transform="translate(406.37,714.2)" d="M-10.1,-27.4H1.2M-2.3,-27.4L-10.7,-0.7M0.6,-27.4L10.9,-0.7M-7.5,-10.4H7M-14.6,-0.7H-4.9M4.4,-0.7H14.1"/>
<path transform="translate(614.08,714.2)" d="M-10.1,-27.4H1.2M-2.3,-27.4L-10.7,-0.7M0.6,-27.4L10.9,-0.7M-7.5,-10.4H7M-14.6,-0.7H-4.9M4.4,-0.7H14.1"/>
<path transform="translate(821.79,714.2)" d="M-10.1,-27.4H1.2M-2.3,-27.4L-10.7,-0.7M0.6,-27.4L10.9,-0.7M-7.5,-10.4H7M-14.6,-0.7H-4.9M4.4,-0.7H14.1"/>
<path transform="translate(1098.73,714.2)" d="M-10.1,-27.4H1.2M-2.3,-27.4L-10.7,-0.7M0.6,-27.4L10.9,-0.7M-7.5,-10.4H7M-14.6,-0.7H-4.9M4.4,-0.7H14.1"/>
<path transform="translate(1514.15,714.2)" d="M-10.1,-27.4H1.2M-2.3,-27.4L-10.7,-0.7M0.6,-27.4L10.9,-0.7M-7.5,-10.4H7M-14.6,-0.7H-4.9M4.4,-0.7H14.1"/>
<path transform="translate(1583.39,714.2)" d="M-10.1,-27.4H1.2M-2.3,-27.4L-10.7,-0.7M0.6,-27.4L10.9,-0.7M-7.5,-10.4H7M-14.6,-0.7H-4.9M4.4,-0.7H14.1"/>
<path transform="translate(1652.62,714.2)" d="M-10.1,-27.4H1.2M-2.3,-27.4L-10.7,-0.7M0.6,-27.4L10.9,-0.7M-7.5,-10.4H7M-14.6,-0.7H-4.9M4.4,-0.7H14.1"/>
<path transform="translate(2137.28,714.2)" d="M-10.1,-27.4H1.2M-2.3,-27.4L-10.7,-0.7M0.6,-27.4L10.9,-0.7M-7.5,-10.4H7M-14.6,-0.7H-4.9M4.4,-0.7H14.1"/>
<path transform="translate(2379.60,714.2)" d="M-10.1,-27.4H1.2M-2.3,-27.4L-10.7,-0.7M0.6,-27.4L10.9,-0.7M-7.5,-10.4H7M-14.6,-0.7H-4.9M4.4,-0.7H14.1"/>
<path transform="translate(2760.40,714.2)" d="M-10.1,-27.4H1.2M-2.3,-27.4L-10.7,-0.7M0.6,-27.4L10.9,-0.7M-7.5,-10.4H7M-14.6,-0.7H-4.9M4.4,-0.7H14.1"/>
<path transform="translate(3175.82,714.2)" d="M-10.1,-27.4H1.2M-2.3,-27.4L-10.7,-0.7M0.6,-27.4L10.9,-0.7M-7.5,-10.4H7M-14.6,-0.7H-4.9M4.4,-0.7H14.1"/>
<path transform="translate(3625.86,714.2)" d="M-10.1,-27.4H1.2M-2.3,-27.4L-10.7,-0.7M0.6,-27.4L10.9,-0.7M-7.5,-10.4H7M-14.6,-0.7H-4.9M4.4,-0.7H14.1"/>
</g>
<g stroke="#0000c0" stroke-width="2.2" fill="none">
<path transform="translate(544.84,714.2)" d="M9.7,-28.4V-19.3M9.7,-25.2C7.5,-27.3 4,-28.3 0.5,-28.3C-6.5,-28.3 -11.3,-22.5 -11.3,-14.2C-11.3,-5.8 -6.5,0 0.5,0C4.5,0 7.8,-2 10.3,-5.2"/>
<path transform="translate(579.46,714.2)" d="M9.7,-28.4V-19.3M9.7,-25.2C7.5,-27.3 4,-28.3 0.5,-28.3C-6.5,-28.3 -11.3,-22.5 -11.3,-14.2C-11.3,-5.8 -6.5,0 0.5,0C4.5,0 7.8,-2 10.3,-5.2"/>
<path transform="translate(752.55,714.2)" d="M9.7,-28.4V-19.3M9.7,-25.2C7.5,-27.3 4,-28.3 0.5,-28.3C-6.5,-28.3 -11.3,-22.5 -11.3,-14.2C-11.3,-5.8 -6.5,0 0.5,0C4.5,0 7.8,-2 10.3,-5.2"/>
<path transform="translate(891.02,714.2)" d="M9.7,-28.4V-19.3M9.7,-25.2C7.5,-27.3 4,-28.3 0.5,-28.3C-6.5,-28.3 -11.3,-22.5 -11.3,-14.2C-11.3,-5.8 -6.5,0 0.5,0C4.5,0 7.8,-2 10.3,-5.2"/>
<path transform="translate(960.26,714.2)" d="M9.7,-28.4V-19.3M9.7,-25.2C7.5,-27.3 4,-28.3 0.5,-28.3C-6.5,-28.3 -11.3,-22.5 -11.3,-14.2C-11.3,-5.8 -6.5,0 0.5,0C4.5,0 7.8,-2 10.3,-5.2"/>
<path transform="translate(994.88,714.2)" d="M9.7,-28.4V-19.3M9.7,-25.2C7.5,-27.3 4,-28.3 0.5,-28.3C-6.5,-28.3 -11.3,-22.5 -11.3,-14.2C-11.3,-5.8 -6.5,0 0.5,0C4.5,0 7.8,-2 10.3,-5.2"/>
<path transform="translate(1167.97,714.2)" d="M9.7,-28.4V-19.3M9.7,-25.2C7.5,-27.3 4,-28.3 0.5,-28.3C-6.5,-28.3 -11.3,-22.5 -11.3,-14.2C-11.3,-5.8 -6.5,0 0.5,0C4.5,0 7.8,-2 10.3,-5.2"/>
<path transform="translate(1271.82,714.2)" d="M9.7,-28.4V-19.3M9.7,-25.2C7.5,-27.3 4,-28.3 0.5,-28.3C-6.5,-28.3 -11.3,-22.5 -11.3,-14.2C-11.3,-5.8 -6.5,0 0.5,0C4.5,0 7.8,-2 10.3,-5.2"/>
<path transform="translate(1444.91,714.2)" d="M9.7,-28.4V-19.3M9.7,-25.2C7.5,-27.3 4,-28.3 0.5,-28.3C-6.5,-28.3 -11.3,-22.5 -11.3,-14.2C-11.3,-5.8 -6.5,0 0.5,0C4.5,0 7.8,-2 10.3,-5.2"/>
<path transform="translate(1548.77,714.2)" d="M9.7,-28.4V-19.3M9.7,-25.2C7.5,-27.3 4,-28.3 0.5,-28.3C-6.5,-28.3 -11.3,-22.5 -11.3,-14.2C-11.3,-5.8 -6.5,0 0.5,0C4.5,0 7.8,-2 10.3,-5.2"/>
<path transform="translate(1756.48,714.2)" d="M9.7,-28.4V-19.3M9.7,-25.2C7.5,-27.3 4,-28.3 0.5,-28.3C-6.5,-28.3 -11.3,-22.5 -11.3,-14.2C-11.3,-5.8 -6.5,0 0.5,0C4.5,0 7.8,-2 10.3,-5.2"/>
<path transform="translate(1860.33,714.2)" d="M9.7,-28.4V-19.3M9.7,-25.2C7.5,-27.3 4,-28.3 0.5,-28.3C-6.5,-28.3 -11.3,-22.5 -11.3,-14.2C-11.3,-5.8 -6.5,0 0.5,0C4.5,0 7.8,-2 10.3,-5.2"/>
<path transform="translate(1998.80,714.2)" d="M9.7,-28.4V-19.3M9.7,-25.2C7.5,-27.3 4,-28.3 0.5,-28.3C-6.5,-28.3 -11.3,-22.5 -11.3,-14.2C-11.3,-5.8 -6.5,0 0.5,0C4.5,0 7.8,-2 10.3,-5.2"/>
<path transform="translate(2171.89,714.2)" d="M9.7,-28.4V-19.3M9.7,-25.2C7.5,-27.3 4,-28.3 0.5,-28.3C-6.5,-28.3 -11.3,-22.5 -11.3,-14.2C-11.3,-5.8 -6.5,0 0.5,0C4.5,0 7.8,-2 10.3,-5.2"/>
<path transform="translate(2206.51,714.2)" d="M9.7,-28.4V-19.3M9.7,-25.2C7.5,-27.3 4,-28.3 0.5,-28.3C-6.5,-28.3 -11.3,-22.5 -11.3,-14.2C-11.3,-5.8 -6.5,0 0.5,0C4.5,0 7.8,-2 10.3,-5.2"/>
<path transform="translate(2275.75,714.2)" d="M9.7,-28.4V-19.3M9.7,-25.2C7.5,-27.3 4,-28.3 0.5,-28.3C-6.5,-28.3 -11.3,-22.5 -11.3,-14.2C-11.3,-5.8 -6.5,0 0.5,0C4.5,0 7.8,-2 10.3,-5.2"/>
<path transform="translate(2414.22,714.2)" d="M9.7,-28.4V-19.3M9.7,-25.2C7.5,-27.3 4,-28.3 0.5,-28.3C-6.5,-28.3 -11.3,-22.5 -11.3,-14.2C-11.3,-5.8 -6.5,0 0.5,0C4.5,0 7.8,-2 10.3,-5.2"/>
<path transform="translate(2483.46,714.2)" d="M9.7,-28.4V-19.3M9.7,-25.2C7.5,-27.3 4,-28.3 0.5,-28.3C-6.5,-28.3 -11.3,-22.5 -11.3,-14.2C-11.3,-5.8 -6.5,0 0.5,0C4.5,0 7.8,-2 10.3,-5.2"/>
<path transform="translate(2725.78,714.2)" d="M9.7,-28.4V-19.3M9.7,-25.2C7.5,-27.3 4,-28.3 0.5,-28.3C-6.5,-28.3 -11.3,-22.5 -11.3,-14.2C-11.3,-5.8 -6.5,0 0.5,0C4.5,0 7.8,-2 10.3,-5.2"/>
<path transform="translate(2795.02,714.2)" d="M9.7,-28.4V-19.3M9.7,-25.2C7.5,-27.3 4,-28.3 0.5,-28.3C-6.5,-28.3 -11.3,-22.5 -11.3,-14.2C-11.3,-5.8 -6.5,0 0.5,0C4.5,0 7.8,-2 10.3,-5.2"/>
<path transform="translate(2898.87,714.2)" d="M9.7,-28.4V-19.3M9.7,-25.2C7.5,-27.3 4,-28.3 0.5,-28.3C-6.5,-28.3 -11.3,-22.5 -11.3,-14.2C-11.3,-5.8 -6.5,0 0.5,0C4.5,0 7.8,-2 10.3,-5.2"/>
<path transform="translate(3002.73,714.2)" d="M9.7,-28.4V-19.3M9.7,-25.2C7.5,-27.3 4,-28.3 0.5,-28.3C-6.5,-28.3 -11.3,-22.5 -11.3,-14.2C-11.3,-5.8 -6.5,0 0.5,0C4.5,0 7.8,-2 10.3,-5.2"/>
<path transform="translate(3071.97,714.2)" d="M9.7,-28.4V-19.3M9.7,-25.2C7.5,-27.3 4,-28.3 0.5,-28.3C-6.5,-28.3 -11.3,-22.5 -11.3,-14.2C-11.3,-5.8 -6.5,0 0.5,0C4.5,0 7.8,-2 10.3,-5.2"/>
<path transform="translate(3106.58,714.2)" d="M9.7,-28.4V-19.3M9.7,-25.2C7.5,-27.3 4,-28.3 0.5,-28.3C-6.5,-28.3 -11.3,-22.5 -11.3,-14.2C-11.3,-5.8 -6.5,0 0.5,0C4.5,0 7.8,-2 10.3,-5.2"/>
<path transform="translate(3210.44,714.2)" d="M9.7,-28.4V-19.3M9.7,-25.2C7.5,-27.3 4,-28.3 0.5,-28.3C-6.5,-28.3 -11.3,-22.5 -11.3,-14.2C-11.3,-5.8 -6.5,0 0.5,0C4.5,0 7.8,-2 10.3,-5.2"/>
<path transform="translate(3245.06,714.2)" d="M9.7,-28.4V-19.3M9.7,-25.2C7.5,-27.3 4,-28.3 0.5,-28.3C-6.5,-28.3 -11.3,-22.5 -11.3,-14.2C-11.3,-5.8 -6.5,0 0.5,0C4.5,0 7.8,-2 10.3,-5.2"/>
<path transform="translate(3279.67,714.2)" d="M9.7,-28.4V-19.3M9.7,-25.2C7.5,-27.3 4,-28.3 0.5,-28.3C-6.5,-28.3 -11.3,-22.5 -11.3,-14.2C-11.3,-5.8 -6.5,0 0.5,0C4.5,0 7.8,-2 10.3,-5.2"/>
<path transform="translate(3383.53,714.2)" d="M9.7,-28.4V-19.3M9.7,-25.2C7.5,-27.3 4,-28.3 0.5,-28.3C-6.5,-28.3 -11.3,-22.5 -11.3,-14.2C-11.3,-5.8 -6.5,0 0.5,0C4.5,0 7.8,-2 10.3,-5.2"/>
<path transform="translate(3487.38,714.2)" d="M9.7,-28.4V-19.3M9.7,-25.2C7.5,-27.3 4,-28.3 0.5,-28.3C-6.5,-28.3 -11.3,-22.5 -11.3,-14.2C-11.3,-5.8 -6.5,0 0.5,0C4.5,0 7.8,-2 10.3,-5.2"/>
<path transform="translate(3556.62,714.2)" d="M9.7,-28.4V-19.3M9.7,-25.2C7.5,-27.3 4,-28.3 0.5,-28.3C-6.5,-28.3 -11.3,-22.5 -11.3,-14.2C-11.3,-5.8 -6.5,0 0.5,0C4.5,0 7.8,-2 10.3,-5.2"/>
<path transform="translate(3660.47,714.2)" d="M9.7,-28.4V-19.3M9.7,-25.2C7.5,-27.3 4,-28.3 0.5,-28.3C-6.5,-28.3 -11.3,-22.5 -11.3,-14.2C-11.3,-5.8 -6.5,0 0.5,0C4.5,0 7.8,-2 10.3,-5.2"/>
<path transform="translate(3695.09,714.2)" d="M9.7,-28.4V-19.3M9.7,-25.2C7.5,-27.3 4,-28.3 0.5,-28.3C-6.5,-28.3 -11.3,-22.5 -11.3,-14.2C-11.3,-5.8 -6.5,0 0.5,0C4.5,0 7.8,-2 10.3,-5.2"/>
<path transform="translate(3764.33,714.2)" d="M9.7,-28.4V-19.3M9.7,-25.2C7.5,-27.3 4,-28.3 0.5,-28.3C-6.5,-28.3 -11.3,-22.5 -11.3,-14.2C-11.3,-5.8 -6.5,0 0.5,0C4.5,0 7.8,-2 10.3,-5.2"/>
<path transform="translate(3798.95,714.2)" d="M9.7,-28.4V-19.3M9.7,-25.2C7.5,-27.3 4,-28.3 0.5,-28.3C-6.5,-28.3 -11.3,-22.5 -11.3,-14.2C-11.3,-5.8 -6.5,0 0.5,0C4.5,0 7.8,-2 10.3,-5.2"/>
<path transform="translate(4145.13,714.2)" d="M9.7,-28.4V-19.3M9.7,-25.2C7.5,-27.3 4,-28.3 0.5,-28.3C-6.5,-28.3 -11.3,-22.5 -11.3,-14.2C-11.3,-5.8 -6.5,0 0.5,0C4.5,0 7.8,-2 10.3,-5.2"/>
</g>
<g stroke="#b5a100" stroke-width="2.2" fill="none">
<path transform="translate(94.81,714.2)" d="M9.7,-28.2V-21.4M9.7,-25C7.5,-27.1 4,-28 0.5,-28C-6.5,-28 -11.3,-22.3 -11.3,-14C-11.3,-5.7 -6.5,0 0.5,0C4,0 7.3,-0.8 9.7,-2.5V-11.45M0.3,-11.45H12.5"/>
<path transform="translate(129.42,714.2)" d="M9.7,-28.2V-21.4M9.7,-25C7.5,-27.1 4,-28 0.5,-28C-6.5,-28 -11.3,-22.3 -11.3,-14C-11.3,-5.7 -6.5,0 0.5,0C4,0 7.3,-0.8 9.7,-2.5V-11.45M0.3,-11.45H12.5"/>
<path transform="translate(164.04,714.2)" d="M9.7,-28.2V-21.4M9.7,-25C7.5,-27.1 4,-28 0.5,-28C-6.5,-28 -11.3,-22.3 -11.3,-14C-11.3,-5.7 -6.5,0 0.5,0C4,0 7.3,-0.8 9.7,-2.5V-11.45M0.3,-11.45H12.5"/>
<path transform="translate(233.28,714.2)" d="M9.7,-28.2V-21.4M9.7,-25C7.5,-27.1 4,-28 0.5,-28C-6.5,-28 -11.3,-22.3 -11.3,-14C-11.3,-5.7 -6.5,0 0.5,0C4,0 7.3,-0.8 9.7,-2.5V-11.45M0.3,-11.45H12.5"/>
<path transform="translate(267.90,714.2)" d="M9.7,-28.2V-21.4M9.7,-25C7.5,-27.1 4,-28 0.5,-28C-6.5,-28 -11.3,-22.3 -11.3,-14C-11.3,-5.7 -6.5,0 0.5,0C4,0 7.3,-0.8 9.7,-2.5V-11.45M0.3,-11.45H12.5"/>
<path transform="translate(440.99,714.2)" d="M9.7,-28.2V-21.4M9.7,-25C7.5,-27.1 4,-28 0.5,-28C-6.5,-28 -11.3,-22.3 -11.3,-14C-11.3,-5.7 -6.5,0 0.5,0C4,0 7.3,-0.8 9.7,-2.5V-11.45M0.3,-11.45H12.5"/>
<path transform="translate(510.22,714.2)" d="M9.7,-28.2V-21.4M9.7,-25C7.5,-27.1 4,-28 0.5,-28C-6.5,-28 -11.3,-22.3 -11.3,-14C-11.3,-5.7 -6.5,0 0.5,0C4,0 7.3,-0.8 9.7,-2.5V-11.45M0.3,-11.45H12.5"/>
<path transform="translate(648.70,714.2)" d="M9.7,-28.2V-21.4M9.7,-25C7.5,-27.1 4,-28 0.5,-28C-6.5,-28 -11.3,-22.3 -11.3,-14C-11.3,-5.7 -6.5,0 0.5,0C4,0 7.3,-0.8 9.7,-2.5V-11.45M0.3,-11.45H12.5"/>
<path transform="translate(683.31,714.2)" d="M9.7,-28.2V-21.4M9.7,-25C7.5,-27.1 4,-28 0.5,-28C-6.5,-28 -11.3,-22.3 -11.3,-14C-11.3,-5.7 -6.5,0 0.5,0C4,0 7.3,-0.8 9.7,-2.5V-11.45M0.3,-11.45H12.5"/>
<path transform="translate(717.93,714.2)" d="M9.7,-28.2V-21.4M9.7,-25C7.5,-27.1 4,-28 0.5,-28C-6.5,-28 -11.3,-22.3 -11.3,-14C-11.3,-5.7 -6.5,0 0.5,0C4,0 7.3,-0.8 9.7,-2.5V-11.45M0.3,-11.45H12.5"/>
<path transform="translate(787.17,714.2)" d="M9.7,-28.2V-21.4M9.7,-25C7.5,-27.1 4,-28 0.5,-28C-6.5,-28 -11.3,-22.3 -11.3,-14C-11.3,-5.7 -6.5,0 0.5,0C4,0 7.3,-0.8 9.7,-2.5V-11.45M0.3,-11.45H12.5"/>
<path transform="translate(856.40,714.2)" d="M9.7,-28.2V-21.4M9.7,-25C7.5,-27.1 4,-28 0.5,-28C-6.5,-28 -11.3,-22.3 -11.3,-14C-11.3,-5.7 -6.5,0 0.5,0C4,0 7.3,-0.8 9.7,-2.5V-11.45M0.3,-11.45H12.5"/>
<path transform="translate(925.64,714.2)" d="M9.7,-28.2V-21.4M9.7,-25C7.5,-27.1 4,-28 0.5,-28C-6.5,-28 -11.3,-22.3 -11.3,-14C-11.3,-5.7 -6.5,0 0.5,0C4,0 7.3,-0.8 9.7,-2.5V-11.45M0.3,-11.45H12.5"/>
<path transform="translate(1029.49,714.2)" d="M9.7,-28.2V-21.4M9.7,-25C7.5,-27.1 4,-28 0.5,-28C-6.5,-28 -11.3,-22.3 -11.3,-14C-11.3,-5.7 -6.5,0 0.5,0C4,0 7.3,-0.8 9.7,-2.5V-11.45M0.3,-11.45H12.5"/>
<path transform="translate(1064.11,714.2)" d="M9.7,-28.2V-21.4M9.7,-25C7.5,-27.1 4,-28 0.5,-28C-6.5,-28 -11.3,-22.3 -11.3,-14C-11.3,-5.7 -6.5,0 0.5,0C4,0 7.3,-0.8 9.7,-2.5V-11.45M0.3,-11.45H12.5"/>
<path transform="translate(1133.35,714.2)" d="M9.7,-28.2V-21.4M9.7,-25C7.5,-27.1 4,-28 0.5,-28C-6.5,-28 -11.3,-22.3 -11.3,-14C-11.3,-5.7 -6.5,0 0.5,0C4,0 7.3,-0.8 9.7,-2.5V-11.45M0.3,-11.45H12.5"/>
<path transform="translate(1202.59,714.2)" d="M9.7,-28.2V-21.4M9.7,-25C7.5,-27.1 4,-28 0.5,-28C-6.5,-28 -11.3,-22.3 -11.3,-14C-11.3,-5.7 -6.5,0 0.5,0C4,0 7.3,-0.8 9.7,-2.5V-11.45M0.3,-11.45H12.5"/>
<path transform="translate(1237.20,714.2)" d="M9.7,-28.2V-21.4M9.7,-25C7.5,-27.1 4,-28 0.5,-28C-6.5,-28 -11.3,-22.3 -11.3,-14C-11.3,-5.7 -6.5,0 0.5,0C4,0 7.3,-0.8 9.7,-2.5V-11.45M0.3,-11.45H12.5"/>
<path transform="translate(1306.44,714.2)" d="M9.7,-28.2V-21.4M9.7,-25C7.5,-27.1 4,-28 0.5,-28C-6.5,-28 -11.3,-22.3 -11.3,-14C-11.3,-5.7 -6.5,0 0.5,0C4,0 7.3,-0.8 9.7,-2.5V-11.45M0.3,-11.45H12.5"/>
<path transform="translate(1341.06,714.2)" d="M9.7,-28.2V-21.4M9.7,-25C7.5,-27.1 4,-28 0.5,-28C-6.5,-28 -11.3,-22.3 -11.3,-14C-11.3,-5.7 -6.5,0 0.5,0C4,0 7.3,-0.8 9.7,-2.5V-11.45M0.3,-11.45H12.5"/>
<path transform="translate(1375.68,714.2)" d="M9.7,-28.2V-21.4M9.7,-25C7.5,-27.1 4,-28 0.5,-28C-6.5,-28 -11.3,-22.3 -11.3,-14C-11.3,-5.7 -6.5,0 0.5,0C4,0 7.3,-0.8 9.7,-2.5V-11.45M0.3,-11.45H12.5"/>
<path transform="translate(1410.29,714.2)" d="M9.7,-28.2V-21.4M9.7,-25C7.5,-27.1 4,-28 0.5,-28C-6.5,-28 -11.3,-22.3 -11.3,-14C-11.3,-5.7 -6.5,0 0.5,0C4,0 7.3,-0.8 9.7,-2.5V-11.45M0.3,-11.45H12.5"/>
<path transform="translate(1479.53,714.2)" d="M9.7,-28.2V-21.4M9.7,-25C7.5,-27.1 4,-28 0.5,-28C-6.5,-28 -11.3,-22.3 -11.3,-14C-11.3,-5.7 -6.5,0 0.5,0C4,0 7.3,-0.8 9.7,-2.5V-11.45M0.3,-11.45H12.5"/>
<path transform="translate(1618.00,714.2)" d="M9.7,-28.2V-21.4M9.7,-25C7.5,-27.1 4,-28 0.5,-28C-6.5,-28 -11.3,-22.3 -11.3,-14C-11.3,-5.7 -6.5,0 0.5,0C4,0 7.3,-0.8 9.7,-2.5V-11.45M0.3,-11.45H12.5"/>
<path transform="translate(1687.24,714.2)" d="M9.7,-28.2V-21.4M9.7,-25C7.5,-27.1 4,-28 0.5,-28C-6.5,-28 -11.3,-22.3 -11.3,-14C-11.3,-5.7 -6.5,0 0.5,0C4,0 7.3,-0.8 9.7,-2.5V-11.45M0.3,-11.45H12.5"/>
<path transform="translate(1721.86,714.2)" d="M9.7,-28.2V-21.4M9.7,-25C7.5,-27.1 4,-28 0.5,-28C-6.5,-28 -11.3,-22.3 -11.3,-14C-11.3,-5.7 -6.5,0 0.5,0C4,0 7.3,-0.8 9.7,-2.5V-11.45M0.3,-11.45H12.5"/>
<path transform="translate(1791.09,714.2)" d="M9.7,-28.2V-21.4M9.7,-25C7.5,-27.1 4,-28 0.5,-28C-6.5,-28 -11.3,-22.3 -11.3,-14C-11.3,-5.7 -6.5,0 0.5,0C4,0 7.3,-0.8 9.7,-2.5V-11.45M0.3,-11.45H12.5"/>
<path transform="translate(1825.71,714.2)" d="M9.7,-28.2V-21.4M9.7,-25C7.5,-27.1 4,-28 0.5,-28C-6.5,-28 -11.3,-22.3 -11.3,-14C-11.3,-5.7 -6.5,0 0.5,0C4,0 7.3,-0.8 9.7,-2.5V-11.45M0.3,-11.45H12.5"/>
<path transform="translate(1894.95,714.2)" d="M9.7,-28.2V-21.4M9.7,-25C7.5,-27.1 4,-28 0.5,-28C-6.5,-28 -11.3,-22.3 -11.3,-14C-11.3,-5.7 -6.5,0 0.5,0C4,0 7.3,-0.8 9.7,-2.5V-11.45M0.3,-11.45H12.5"/>
<path transform="translate(1929.57,714.2)" d="M9.7,-28.2V-21.4M9.7,-25C7.5,-27.1 4,-28 0.5,-28C-6.5,-28 -11.3,-22.3 -11.3,-14C-11.3,-5.7 -6.5,0 0.5,0C4,0 7.3,-0.8 9.7,-2.5V-11.45M0.3,-11.45H12.5"/>
<path transform="translate(1964.18,714.2)" d="M9.7,-28.2V-21.4M9.7,-25C7.5,-27.1 4,-28 0.5,-28C-6.5,-28 -11.3,-22.3 -11.3,-14C-11.3,-5.7 -6.5,0 0.5,0C4,0 7.3,-0.8 9.7,-2.5V-11.45M0.3,-11.45H12.5"/>
<path transform="translate(2033.42,714.2)" d="M9.7,-28.2V-21.4M9.7,-25C7.5,-27.1 4,-28 0.5,-28C-6.5,-28 -11.3,-22.3 -11.3,-14C-11.3,-5.7 -6.5,0 0.5,0C4,0 7.3,-0.8 9.7,-2.5V-11.45M0.3,-11.45H12.5"/>
<path transform="translate(2068.04,714.2)" d="M9.7,-28.2V-21.4M9.7,-25C7.5,-27.1 4,-28 0.5,-28C-6.5,-28 -11.3,-22.3 -11.3,-14C-11.3,-5.7 -6.5,0 0.5,0C4,0 7.3,-0.8 9.7,-2.5V-11.45M0.3,-11.45H12.5"/>
<path transform="translate(2241.13,714.2)" d="M9.7,-28.2V-21.4M9.7,-25C7.5,-27.1 4,-28 0.5,-28C-6.5,-28 -11.3,-22.3 -11.3,-14C-11.3,-5.7 -6.5,0 0.5,0C4,0 7.3,-0.8 9.7,-2.5V-11.45M0.3,-11.45H12.5"/>
<path transform="translate(2344.98,714.2)" d="M9.7,-28.2V-21.4M9.7,-25C7.5,-27.1 4,-28 0.5,-28C-6.5,-28 -11.3,-22.3 -11.3,-14C-11.3,-5.7 -6.5,0 0.5,0C4,0 7.3,-0.8 9.7,-2.5V-11.45M0.3,-11.45H12.5"/>
<path transform="translate(2448.84,714.2)" d="M9.7,-28.2V-21.4M9.7,-25C7.5,-27.1 4,-28 0.5,-28C-6.5,-28 -11.3,-22.3 -11.3,-14C-11.3,-5.7 -6.5,0 0.5,0C4,0 7.3,-0.8 9.7,-2.5V-11.45M0.3,-11.45H12.5"/>
<path transform="translate(2552.69,714.2)" d="M9.7,-28.2V-21.4M9.7,-25C7.5,-27.1 4,-28 0.5,-28C-6.5,-28 -11.3,-22.3 -11.3,-14C-11.3,-5.7 -6.5,0 0.5,0C4,0 7.3,-0.8 9.7,-2.5V-11.45M0.3,-11.45H12.5"/>
<path transform="translate(2587.31,714.2)" d="M9.7,-28.2V-21.4M9.7,-25C7.5,-27.1 4,-28 0.5,-28C-6.5,-28 -11.3,-22.3 -11.3,-14C-11.3,-5.7 -6.5,0 0.5,0C4,0 7.3,-0.8 9.7,-2.5V-11.45M0.3,-11.45H12.5"/>
<path transform="translate(2621.93,714.2)" d="M9.7,-28.2V-21.4M9.7,-25C7.5,-27.1 4,-28 0.5,-28C-6.5,-28 -11.3,-22.3 -11.3,-14C-11.3,-5.7 -6.5,0 0.5,0C4,0 7.3,-0.8 9.7,-2.5V-11.45M0.3,-11.45H12.5"/>
<path transform="translate(2656.55,714.2)" d="M9.7,-28.2V-21.4M9.7,-25C7.5,-27.1 4,-28 0.5,-28C-6.5,-28 -11.3,-22.3 -11.3,-14C-11.3,-5.7 -6.5,0 0.5,0C4,0 7.3,-0.8 9.7,-2.5V-11.45M0.3,-11.45H12.5"/>
<path transform="translate(2691.17,714.2)" d="M9.7,-28.2V-21.4M9.7,-25C7.5,-27.1 4,-28 0.5,-28C-6.5,-28 -11.3,-22.3 -11.3,-14C-11.3,-5.7 -6.5,0 0.5,0C4,0 7.3,-0.8 9.7,-2.5V-11.45M0.3,-11.45H12.5"/>
<path transform="translate(2829.64,714.2)" d="M9.7,-28.2V-21.4M9.7,-25C7.5,-27.1 4,-28 0.5,-28C-6.5,-28 -11.3,-22.3 -11.3,-14C-11.3,-5.7 -6.5,0 0.5,0C4,0 7.3,-0.8 9.7,-2.5V-11.45M0.3,-11.45H12.5"/>
<path transform="translate(2864.26,714.2)" d="M9.7,-28.2V-21.4M9.7,-25C7.5,-27.1 4,-28 0.5,-28C-6.5,-28 -11.3,-22.3 -11.3,-14C-11.3,-5.7 -6.5,0 0.5,0C4,0 7.3,-0.8 9.7,-2.5V-11.45M0.3,-11.45H12.5"/>
<path transform="translate(2933.49,714.2)" d="M9.7,-28.2V-21.4M9.7,-25C7.5,-27.1 4,-28 0.5,-28C-6.5,-28 -11.3,-22.3 -11.3,-14C-11.3,-5.7 -6.5,0 0.5,0C4,0 7.3,-0.8 9.7,-2.5V-11.45M0.3,-11.45H12.5"/>
<path transform="translate(2968.11,714.2)" d="M9.7,-28.2V-21.4M9.7,-25C7.5,-27.1 4,-28 0.5,-28C-6.5,-28 -11.3,-22.3 -11.3,-14C-11.3,-5.7 -6.5,0 0.5,0C4,0 7.3,-0.8 9.7,-2.5V-11.45M0.3,-11.45H12.5"/>
<path transform="translate(3037.35,714.2)" d="M9.7,-28.2V-21.4M9.7,-25C7.5,-27.1 4,-28 0.5,-28C-6.5,-28 -11.3,-22.3 -11.3,-14C-11.3,-5.7 -6.5,0 0.5,0C4,0 7.3,-0.8 9.7,-2.5V-11.45M0.3,-11.45H12.5"/>
<path transform="translate(3314.29,714.2)" d="M9.7,-28.2V-21.4M9.7,-25C7.5,-27.1 4,-28 0.5,-28C-6.5,-28 -11.3,-22.3 -11.3,-14C-11.3,-5.7 -6.5,0 0.5,0C4,0 7.3,-0.8 9.7,-2.5V-11.45M0.3,-11.45H12.5"/>
<path transform="translate(3418.15,714.2)" d="M9.7,-28.2V-21.4M9.7,-25C7.5,-27.1 4,-28 0.5,-28C-6.5,-28 -11.3,-22.3 -11.3,-14C-11.3,-5.7 -6.5,0 0.5,0C4,0 7.3,-0.8 9.7,-2.5V-11.45M0.3,-11.45H12.5"/>
<path transform="translate(3452.76,714.2)" d="M9.7,-28.2V-21.4M9.7,-25C7.5,-27.1 4,-28 0.5,-28C-6.5,-28 -11.3,-22.3 -11.3,-14C-11.3,-5.7 -6.5,0 0.5,0C4,0 7.3,-0.8 9.7,-2.5V-11.45M0.3,-11.45H12.5"/>
<path transform="translate(3522.00,714.2)" d="M9.7,-28.2V-21.4M9.7,-25C7.5,-27.1 4,-28 0.5,-28C-6.5,-28 -11.3,-22.3 -11.3,-14C-11.3,-5.7 -6.5,0 0.5,0C4,0 7.3,-0.8 9.7,-2.5V-11.45M0.3,-11.45H12.5"/>
<path transform="translate(3591.24,714.2)" d="M9.7,-28.2V-21.4M9.7,-25C7.5,-27.1 4,-28 0.5,-28C-6.5,-28 -11.3,-22.3 -11.3,-14C-11.3,-5.7 -6.5,0 0.5,0C4,0 7.3,-0.8 9.7,-2.5V-11.45M0.3,-11.45H12.5"/>
<path transform="translate(3729.71,714.2)" d="M9.7,-28.2V-21.4M9.7,-25C7.5,-27.1 4,-28 0.5,-28C-6.5,-28 -11.3,-22.3 -11.3,-14C-11.3,-5.7 -6.5,0 0.5,0C4,0 7.3,-0.8 9.7,-2.5V-11.45M0.3,-11.45H12.5"/>
<path transform="translate(3833.56,714.2)" d="M9.7,-28.2V-21.4M9.7,-25C7.5,-27.1 4,-28 0.5,-28C-6.5,-28 -11.3,-22.3 -11.3,-14C-11.3,-5.7 -6.5,0 0.5,0C4,0 7.3,-0.8 9.7,-2.5V-11.45M0.3,-11.45H12.5"/>
<path transform="translate(3868.18,714.2)" d="M9.7,-28.2V-21.4M9.7,-25C7.5,-27.1 4,-28 0.5,-28C-6.5,-28 -11.3,-22.3 -11.3,-14C-11.3,-5.7 -6.5,0 0.5,0C4,0 7.3,-0.8 9.7,-2.5V-11.45M0.3,-11.45H12.5"/>
<path transform="translate(3902.80,714.2)" d="M9.7,-28.2V-21.4M9.7,-25C7.5,-27.1 4,-28 0.5,-28C-6.5,-28 -11.3,-22.3 -11.3,-14C-11.3,-5.7 -6.5,0 0.5,0C4,0 7.3,-0.8 9.7,-2.5V-11.45M0.3,-11.45H12.5"/>
<path transform="translate(3937.42,714.2)" d="M9.7,-28.2V-21.4M9.7,-25C7.5,-27.1 4,-28 0.5,-28C-6.5,-28 -11.3,-22.3 -11.3,-14C-11.3,-5.7 -6.5,0 0.5,0C4,0 7.3,-0.8 9.7,-2.5V-11.45M0.3,-11.45H12.5"/>
<path transform="translate(4006.65,714.2)" d="M9.7,-28.2V-21.4M9.7,-25C7.5,-27.1 4,-28 0.5,-28C-6.5,-28 -11.3,-22.3 -11.3,-14C-11.3,-5.7 -6.5,0 0.5,0C4,0 7.3,-0.8 9.7,-2.5V-11.45M0.3,-11.45H12.5"/>
<path transform="translate(4041.27,714.2)" d="M9.7,-28.2V-21.4M9.7,-25C7.5,-27.1 4,-28 0.5,-28C-6.5,-28 -11.3,-22.3 -11.3,-14C-11.3,-5.7 -6.5,0 0.5,0C4,0 7.3,-0.8 9.7,-2.5V-11.45M0.3,-11.45H12.5"/>
<path transform="translate(4110.51,714.2)" d="M9.7,-28.2V-21.4M9.7,-25C7.5,-27.1 4,-28 0.5,-28C-6.5,-28 -11.3,-22.3 -11.3,-14C-11.3,-5.7 -6.5,0 0.5,0C4,0 7.3,-0.8 9.7,-2.5V-11.45M0.3,-11.45H12.5"/>
<path transform="translate(4179.75,714.2)" d="M9.7,-28.2V-21.4M9.7,-25C7.5,-27.1 4,-28 0.5,-28C-6.5,-28 -11.3,-22.3 -11.3,-14C-11.3,-5.7 -6.5,0 0.5,0C4,0 7.3,-0.8 9.7,-2.5V-11.45M0.3,-11.45H12.5"/>
</g>
<g stroke="#00b000" stroke-width="2.2" fill="none">
<path transform="translate(371.75,714.2)" d="M-8.9,-27.55H14.3M-7.9,-27.55V-18.1M13.3,-27.55V-18.1M2.7,-27.55V-0.7M-4.9,-0.7H10.3"/>
<path transform="translate(475.60,714.2)" d="M-8.9,-27.55H14.3M-7.9,-27.55V-18.1M13.3,-27.55V-18.1M2.7,-27.55V-0.7M-4.9,-0.7H10.3"/>
<path transform="translate(2102.66,714.2)" d="M-8.9,-27.55H14.3M-7.9,-27.55V-18.1M13.3,-27.55V-18.1M2.7,-27.55V-0.7M-4.9,-0.7H10.3"/>
<path transform="translate(2310.37,714.2)" d="M-8.9,-27.55H14.3M-7.9,-27.55V-18.1M13.3,-27.55V-18.1M2.7,-27.55V-0.7M-4.9,-0.7H10.3"/>
<path transform="translate(2518.07,714.2)" d="M-8.9,-27.55H14.3M-7.9,-27.55V-18.1M13.3,-27.55V-18.1M2.7,-27.55V-0.7M-4.9,-0.7H10.3"/>
<path transform="translate(3141.20,714.2)" d="M-8.9,-27.55H14.3M-7.9,-27.55V-18.1M13.3,-27.55V-18.1M2.7,-27.55V-0.7M-4.9,-0.7H10.3"/>
<path transform="translate(3348.91,714.2)" d="M-8.9,-27.55H14.3M-7.9,-27.55V-18.1M13.3,-27.55V-18.1M2.7,-27.55V-0.7M-4.9,-0.7H10.3"/>
<path transform="translate(3972.04,714.2)" d="M-8.9,-27.55H14.3M-7.9,-27.55V-18.1M13.3,-27.55V-18.1M2.7,-27.55V-0.7M-4.9,-0.7H10.3"/>
<path transform="translate(4075.89,714.2)" d="M-8.9,-27.55H14.3M-7.9,-27.55V-18.1M13.3,-27.55V-18.1M2.7,-27.55V-0.7M-4.9,-0.7H10.3"/>
</g>
<rect x="1882.1" y="720.9" width="96" height="4" fill="#1f2e2a"/>
<g fill="none" stroke="#000" stroke-width="2.1">
<path d="M76,777 H1098.4 C1125,777 1145,783 1150,796.4 C1155,783 1175,777 1201,777 H2063 C2110,777 2160,760 2187,731.1"/>
<path d="M2194.7,731.1 C2222,760 2270,777 2317,777 H3202.6 C3228,777 3250,783 3255.3,796.6 C3260,783 3282,777 3307.2,777 H4200"/>
</g>
<polygon points="60.1,777 77.8,769 77.8,784.8" fill="#000"/>
<polygon points="4221,777.3 4198,769.6 4198,784.8" fill="#000"/>
<text x="1093.69" y="835.80" fill="#000" font-size="37.65">5’ HA</text>
<text x="3208.47" y="835.80" fill="#000" font-size="37.65">3’ HA</text>
<line x1="2190.6" y1="638.5" x2="2190.6" y2="795.5" stroke="#bcbfbd" stroke-width="0.9"/>
<line x1="2190.6" y1="797" x2="2190.6" y2="638.5" stroke="#213530" stroke-width="4" stroke-dasharray="14.5 14.5"/>
<rect x="1214.5" y="960.2" width="1828.5" height="50.4" fill="#e60012" stroke="#000" stroke-width="4"/>
<rect x="3043" y="960.2" width="110" height="50.4" fill="#45f85a" stroke="#000" stroke-width="4"/>
<text x="2045.70" y="996.20" fill="#fff" font-size="37.65">mTagRFP-T</text>
<text x="3047.61" y="995.70" fill="#000" font-size="37.65">Linker</text>
<line x1="2190.6" y1="795.5" x2="1215" y2="960.3" stroke="#bcbfbd" stroke-width="0.9"/>
<line x1="2190.6" y1="795.5" x2="1215" y2="960.3" stroke="#213530" stroke-width="4.6" stroke-dasharray="24.3 25.15" stroke-dashoffset="11.5"/>
<line x1="2190.6" y1="795.5" x2="3153.5" y2="960.3" stroke="#bcbfbd" stroke-width="0.9"/>
<line x1="2190.6" y1="795.5" x2="3153.5" y2="960.3" stroke="#213530" stroke-width="4.6" stroke-dasharray="24.4 24.34" stroke-dashoffset="11.8"/>
<path d="M9.4,905.3 H29.5 L57.5,925.4 L29.5,945.5 H9.4 Z" fill="#b5b5ae" stroke="#000" stroke-width="4.2" stroke-linejoin="miter"/>
<line x1="5.1" y1="969.9" x2="55.8" y2="969.9" stroke="#000" stroke-width="3.9"/>
<text x="68.61" y="933.40" fill="#000" font-size="37.65">Exon</text>
<text x="69.41" y="977.90" fill="#000" font-size="37.65">Intron</text>
<text x="0.01" y="1023.00" fill="#000" font-size="37.65">HA = Homology Arm (1Kb)</text>
<text x="0.01" y="1059.60" fill="#000" font-size="37.65">PAM = Protospacer-Adjacent Motif</text>
</svg></div>
</body></html>
